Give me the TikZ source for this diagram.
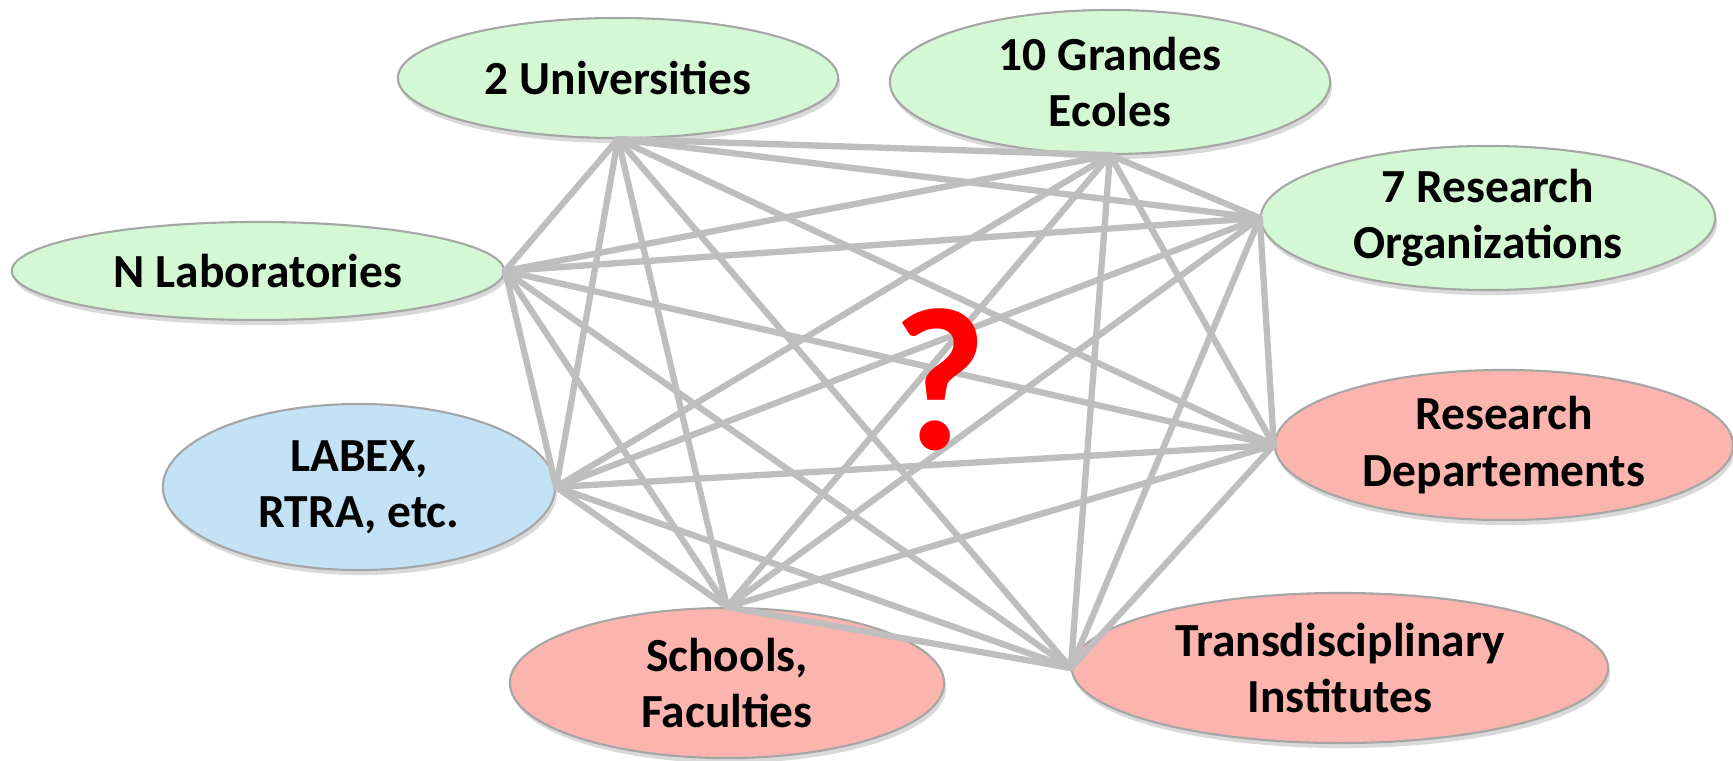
\documentclass[tikz,border=0pt]{standalone}
\usepackage{fontspec}
\setmainfont{Carlito}
\usetikzlibrary{shapes.geometric, shadows}

\definecolor{orgfill}{HTML}{D5F8D4}
\definecolor{labexfill}{HTML}{C3E2F6}
\definecolor{unitfill}{HTML}{FBB4AE}
\definecolor{rimgray}{HTML}{A6A6A6}
\definecolor{linkgray}{HTML}{BEBEBE}

\begin{document}
\begin{tikzpicture}[x=0.01cm, y=-0.01cm,
  actor/.style={ellipse, draw=rimgray, line width=0.6pt, inner sep=0pt, align=center,
    font=\fontsize{13.5}{16}\selectfont\bfseries,
    drop shadow={opacity=0.3, shadow xshift=0.02cm, shadow yshift=-0.05cm}},
  link/.style={draw=linkgray, line width=1.8pt, line cap=round}]
  \useasboundingbox (0,0) rectangle (1733,760);
  \node[actor, fill=orgfill, minimum width=4.4cm, minimum height=1.2cm] (uni) at (618,78) {2 Universities};
  \node[actor, fill=orgfill, minimum width=4.4cm, minimum height=1.44cm] (ecoles) at (1110,82) {10 Grandes\\Ecoles};
  \node[actor, fill=orgfill, minimum width=4.54cm, minimum height=1.44cm] (resorg) at (1488,218) {7 Research\\Organizations};
  \node[actor, fill=orgfill, minimum width=4.92cm, minimum height=0.98cm] (labo) at (258,271) {N Laboratories};
  \node[actor, fill=labexfill, minimum width=3.92cm, minimum height=1.66cm] (labex) at (359,487) {LABEX,\\RTRA, etc.};
  \node[actor, fill=unitfill, minimum width=4.58cm, minimum height=1.5cm] (resdep) at (1504,445) {Research\\Departements};
  \node[actor, fill=unitfill, minimum width=4.34cm, minimum height=1.5cm] (schools) at (727,683) {Schools,\\Faculties};
  \node[actor, fill=unitfill, minimum width=5.36cm, minimum height=1.5cm] (instit) at (1340,668) {Transdisciplinary\\Institutes};
  % every actor linked to every other one
  \def\ends{uni.south, ecoles.south, resorg.west, resdep.west, instit.west, schools.north, labex.east, labo.east}
  \foreach \p [count=\i] in \ends
    \foreach \q [count=\j] in \ends
      {\ifnum\i<\j \draw[link] (\p) -- (\q); \fi}
  \node[text=red, font=\fontsize{58}{60}\selectfont\bfseries] (quest) at (940,380) {?};
\end{tikzpicture}
\end{document}
